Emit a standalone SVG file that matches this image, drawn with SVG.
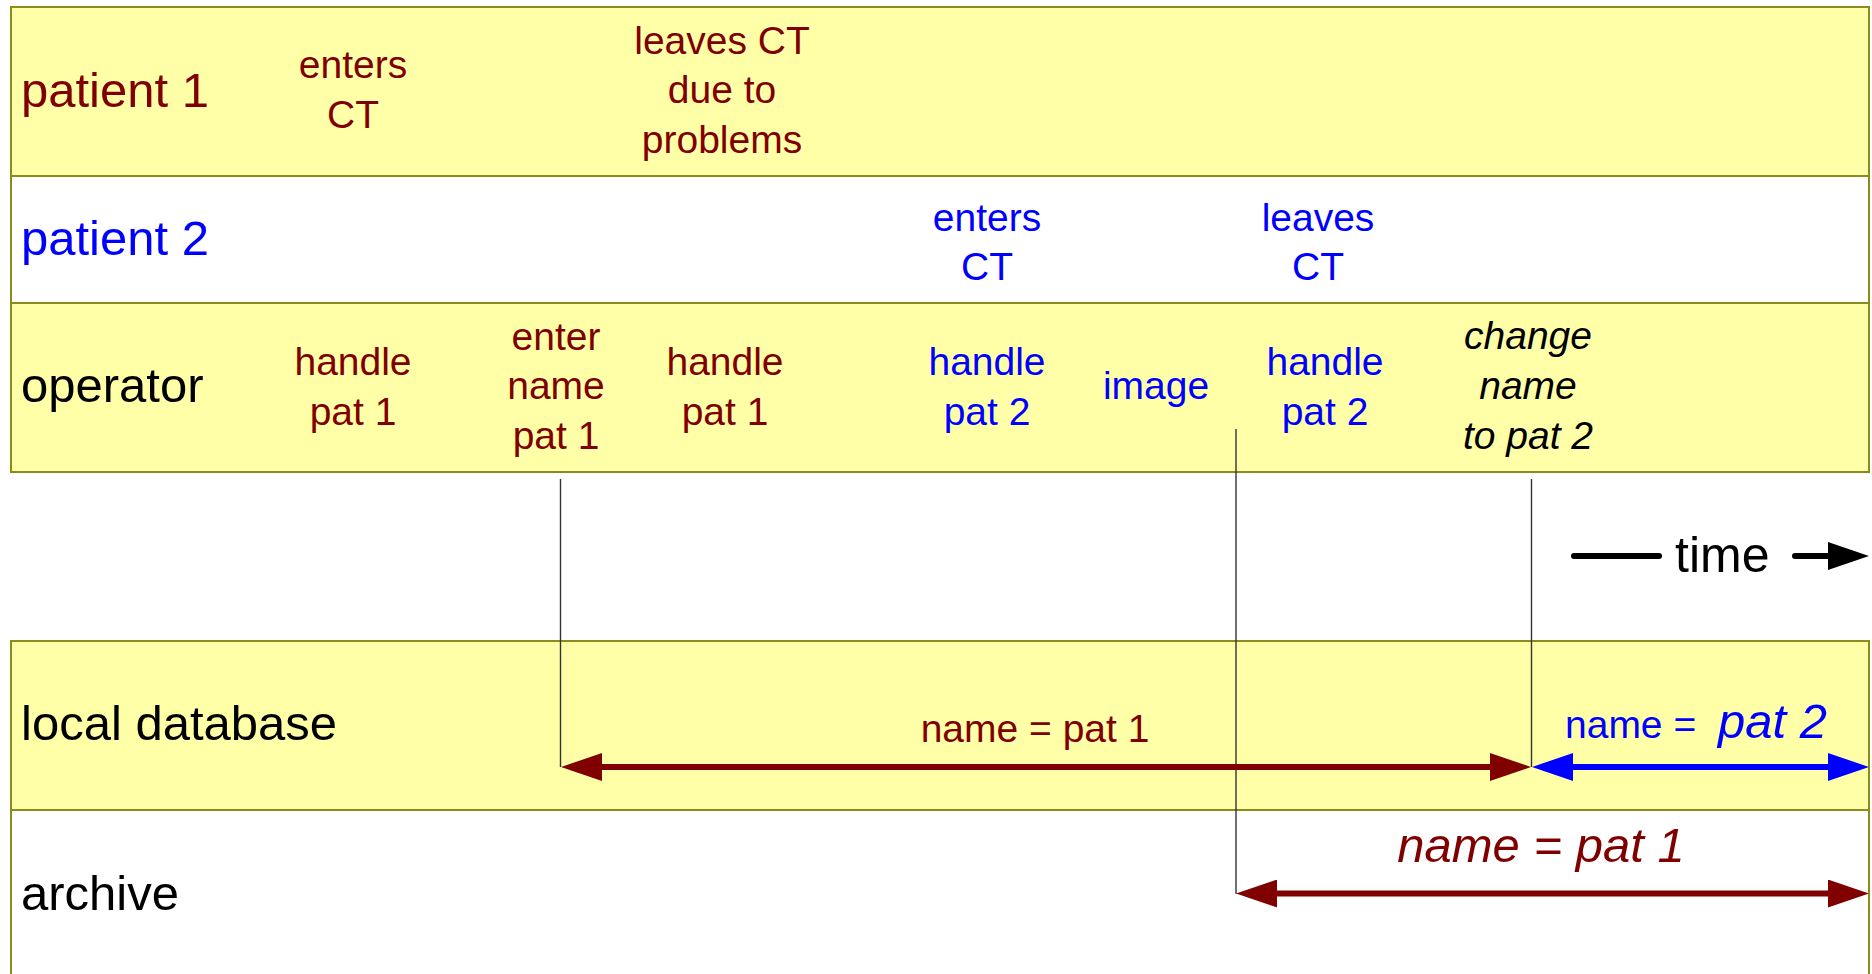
<svg xmlns="http://www.w3.org/2000/svg" width="1872" height="974" viewBox="0 0 1872 974">
<style>
  .band-y { fill: #ffffa8; stroke: #8c8c1c; stroke-width: 2; }
  .band-w { fill: #ffffff; stroke: #8c8c1c; stroke-width: 2; }
  text { font-family: "Liberation Sans", Arial, sans-serif; }
  .row { font-size: 49px; }
  .ev { font-size: 39px; text-anchor: middle; }
  .red { fill: #800000; }
  .blue { fill: #0000ff; }
  .blk { fill: #000000; }
  .it { font-style: italic; }
  .guide { stroke: #333333; stroke-width: 1.4; fill: none; }
  .arr-red { stroke: #800000; stroke-width: 6; fill: none; }
  .arr-blue { stroke: #0000ff; stroke-width: 6; fill: none; }
  .arr-blk { stroke: #000000; stroke-width: 6; fill: none; }
</style>
<defs>
  <marker id="mRed" markerUnits="userSpaceOnUse" markerWidth="42" markerHeight="28" refX="0" refY="14" orient="auto-start-reverse" viewBox="0 0 42 28">
    <path d="M0,0 L41,14 L0,28 z" fill="#800000"/>
  </marker>
  <marker id="mBlue" markerUnits="userSpaceOnUse" markerWidth="42" markerHeight="28" refX="0" refY="14" orient="auto-start-reverse" viewBox="0 0 42 28">
    <path d="M0,0 L41,14 L0,28 z" fill="#0000ff"/>
  </marker>
  <marker id="mBlk" markerUnits="userSpaceOnUse" markerWidth="42" markerHeight="28" refX="0" refY="14" orient="auto-start-reverse" viewBox="0 0 42 28">
    <path d="M0,0 L41,14 L0,28 z" fill="#000000"/>
  </marker>
</defs>
<rect width="1872" height="974" fill="#ffffff"/>

<g id="lane-patient1">
  <rect class="band-y" x="11" y="7" width="1858" height="169"/>
  <text class="row red" x="21" y="107">patient 1</text>
</g>
<g id="lane-patient2">
  <rect class="band-w" x="11" y="176" width="1858" height="127"/>
  <text class="row blue" x="21" y="255">patient 2</text>
</g>
<g id="lane-operator">
  <rect class="band-y" x="11" y="303" width="1858" height="169"/>
  <text class="row blk" x="21" y="402">operator</text>
</g>
<g id="lane-localdb">
  <rect class="band-y" x="11" y="641" width="1858" height="169"/>
  <text class="row blk" x="21" y="740">local database</text>
</g>
<g id="lane-archive">
  <rect class="band-w" x="11" y="810" width="1858" height="180"/>
  <text class="row blk" x="21" y="910">archive</text>
</g>

<g id="ev-p1-enters">
  <text class="ev red" x="353" y="78">enters</text>
  <text class="ev red" x="353" y="128">CT</text>
</g>
<g id="ev-p1-leaves">
  <text class="ev red" x="722" y="54">leaves CT</text>
  <text class="ev red" x="722" y="103">due to</text>
  <text class="ev red" x="722" y="153">problems</text>
</g>
<g id="ev-p2-enters">
  <text class="ev blue" x="987" y="231">enters</text>
  <text class="ev blue" x="987" y="280">CT</text>
</g>
<g id="ev-p2-leaves">
  <text class="ev blue" x="1318" y="231">leaves</text>
  <text class="ev blue" x="1318" y="280">CT</text>
</g>

<g id="op-handle1a">
  <text class="ev red" x="353" y="375">handle</text>
  <text class="ev red" x="353" y="425">pat 1</text>
</g>
<g id="op-entername">
  <text class="ev red" x="556" y="350">enter</text>
  <text class="ev red" x="556" y="399">name</text>
  <text class="ev red" x="556" y="449">pat 1</text>
</g>
<g id="op-handle1b">
  <text class="ev red" x="725" y="375">handle</text>
  <text class="ev red" x="725" y="425">pat 1</text>
</g>
<g id="op-handle2a">
  <text class="ev blue" x="987" y="375">handle</text>
  <text class="ev blue" x="987" y="425">pat 2</text>
</g>
<g id="op-image">
  <text class="ev blue" x="1156" y="399">image</text>
</g>
<g id="op-handle2b">
  <text class="ev blue" x="1325" y="375">handle</text>
  <text class="ev blue" x="1325" y="425">pat 2</text>
</g>
<g id="op-changename">
  <text class="ev blk it" x="1528" y="349">change</text>
  <text class="ev blk it" x="1528" y="399">name</text>
  <text class="ev blk it" x="1528" y="449">to pat 2</text>
</g>

<g id="time-legend">
  <line class="arr-blk" x1="1574" y1="556" x2="1659" y2="556" stroke-linecap="round"/>
  <text class="blk" x="1675" y="572" font-size="50">time</text>
  <line class="arr-blk" x1="1795" y1="556" x2="1828" y2="556" stroke-linecap="round" marker-end="url(#mBlk)"/>
</g>

<g id="connectors">
  <line class="guide" x1="560.5" y1="479" x2="560.5" y2="767"/>
  <line class="guide" x1="1236" y1="429" x2="1236" y2="894"/>
  <line class="guide" x1="1531.5" y1="479" x2="1531.5" y2="767"/>
  <line class="arr-red" x1="602" y1="767" x2="1490" y2="767" marker-start="url(#mRed)" marker-end="url(#mRed)"/>
  <line class="arr-blue" x1="1573" y1="767" x2="1828" y2="767" marker-start="url(#mBlue)" marker-end="url(#mBlue)"/>
  <line class="arr-red" x1="1277" y1="893.5" x2="1828" y2="893.5" marker-start="url(#mRed)" marker-end="url(#mRed)"/>
</g>

<g id="label-db-pat1">
  <text class="ev red" x="1035" y="742">name = pat 1</text>
</g>
<g id="label-db-pat2">
  <text class="blue" x="1565" y="738" font-size="39">name =</text>
  <text class="blue it" x="1718" y="738" font-size="49">pat 2</text>
</g>
<g id="label-archive-pat1">
  <text class="red it" x="1541" y="862" font-size="49" text-anchor="middle">name = pat 1</text>
</g>
</svg>
